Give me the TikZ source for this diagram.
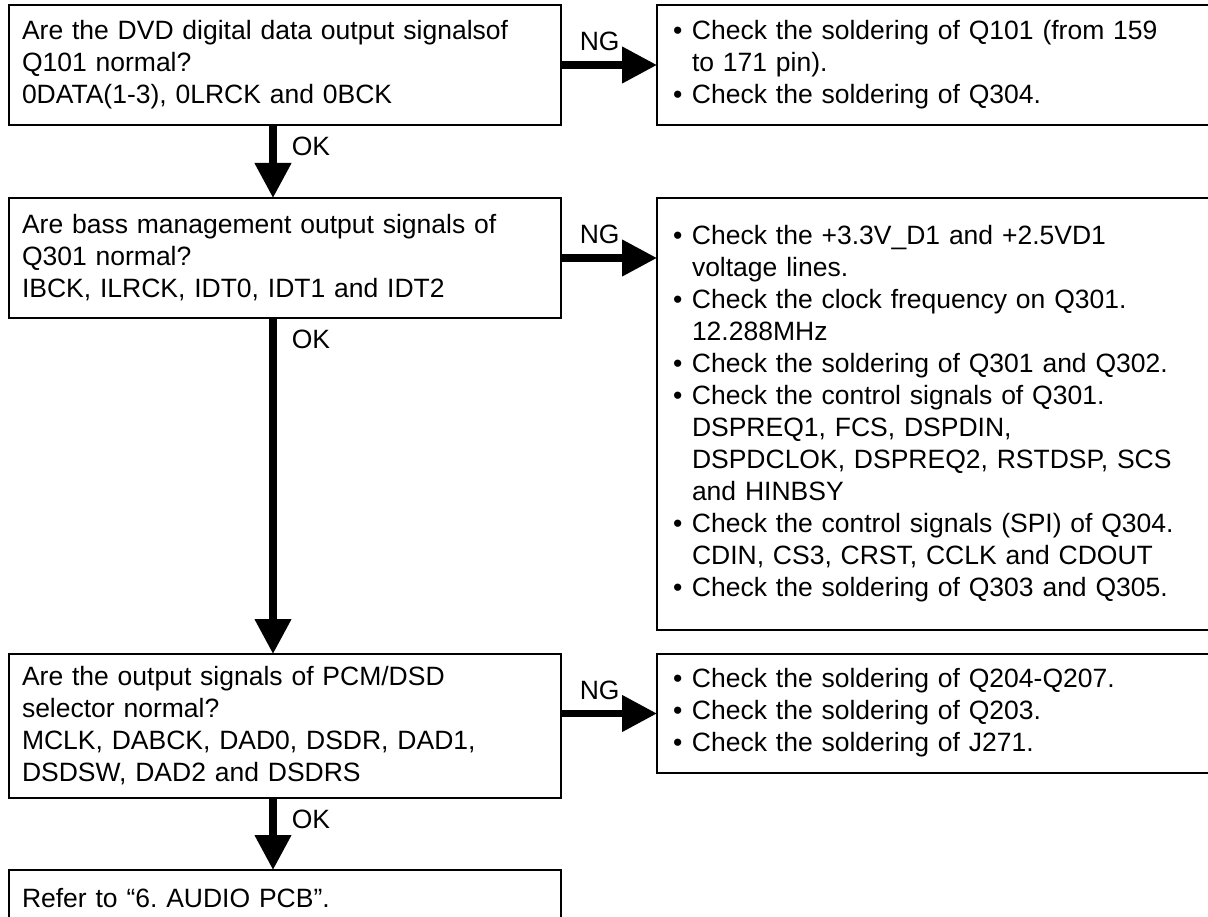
\documentclass[tikz,border=0pt]{standalone}
\usepackage{fontspec}
\setmainfont{Liberation Sans}
\usepackage{tikz}
\usetikzlibrary{arrows.meta}
\frenchspacing
\tikzset{
  question/.style={
    draw,
    line width=1.8pt,
    anchor=north west,
    outer sep=0pt,
    align=left,
    inner xsep=13pt,
    inner ysep=0pt,
    text width=526pt
  },
  remedy/.style={
    draw,
    line width=1.8pt,
    anchor=north west,
    outer sep=0pt,
    align=left,
    inner xsep=16pt,
    inner ysep=0pt,
    text width=528pt
  },
  flow/.style={line width=7.5pt, -{Triangle[length=35pt,width=35pt]}},
  oklabel/.style={anchor=north west, inner sep=0pt, xshift=15pt, yshift=-8pt},
  nglabel/.style={anchor=south west, inner sep=0pt, xshift=15pt, yshift=10pt}
}
\newcommand{\chk}{\makebox[19pt][l]{\textbullet}}

\begin{document}
\begin{tikzpicture}[x=1pt,y=1pt,font=\fontsize{26.5}{32}\selectfont]
  \path[use as bounding box] (0,0) rectangle (1208,-917);
  \clip (0,0) rectangle (1208,-917);

  % questions on the left
  \node[question, minimum height=120pt] (q1) at (9,-5)
    {Are the DVD digital data output signalsof\\Q101 normal?\\0DATA(1-3), 0LRCK and 0BCK};
  \node[question, minimum height=120pt] (q3) at (9,-198)
    {Are bass management output signals of\\Q301 normal?\\IBCK, ILRCK, IDT0, IDT1 and IDT2};
  \node[question, minimum height=144pt] (q5) at (9,-654)
    {Are the output signals of PCM/DSD\\selector normal?\\MCLK, DABCK, DAD0, DSDR, DAD1,\\DSDSW, DAD2 and DSDRS};
  \node[question, minimum height=56pt] (q7) at (9,-870)
    {Refer to “6. AUDIO PCB”.};

  % checks on the right
  \node[remedy, minimum height=120pt] (n1) at (657,-5)
    {\begin{tabular}{@{}l@{}l@{}}
      \chk & Check the soldering of Q101 (from 159\\
           & to 171 pin).\\
      \chk & Check the soldering of Q304.
    \end{tabular}};
  \node[remedy, minimum height=432pt] (n2) at (657,-198)
    {\begin{tabular}{@{}l@{}l@{}}
      \chk & Check the +3.3V\_D1 and +2.5VD1\\
           & voltage lines.\\
      \chk & Check the clock frequency on Q301.\\
           & 12.288MHz\\
      \chk & Check the soldering of Q301 and Q302.\\
      \chk & Check the control signals of Q301.\\
           & DSPREQ1, FCS, DSPDIN,\\
           & DSPDCLOK, DSPREQ2, RSTDSP, SCS\\
           & and HINBSY\\
      \chk & Check the control signals (SPI) of Q304.\\
           & CDIN, CS3, CRST, CCLK and CDOUT\\
      \chk & Check the soldering of Q303 and Q305.
    \end{tabular}};
  \node[remedy, minimum height=119pt] (n3) at (657,-654)
    {\begin{tabular}{@{}l@{}l@{}}
      \chk & Check the soldering of Q204-Q207.\\
      \chk & Check the soldering of Q203.\\
      \chk & Check the soldering of J271.
    \end{tabular}};

  % OK branches
  \draw[flow] ([xshift=-12pt]q1.south) -- ([xshift=-12pt]q3.north)
    node[oklabel, pos=0] {OK};
  \draw[flow] ([xshift=-12pt]q3.south) -- ([xshift=-12pt]q5.north)
    node[oklabel, pos=0] {OK};
  \draw[flow] ([xshift=-12pt]q5.south) -- ([xshift=-12pt]q7.north)
    node[oklabel, pos=0] {OK};

  % NG branches
  \draw[flow] (q1.east) -- (n1.west)
    node[nglabel, pos=0] {NG};
  \draw[flow] (q3.east) -- (q3.east -| n2.west)
    node[nglabel, pos=0] {NG};
  \draw[flow] (n3.west -| q5.east) -- (n3.west)
    node[nglabel, pos=0] {NG};
\end{tikzpicture}
\end{document}
